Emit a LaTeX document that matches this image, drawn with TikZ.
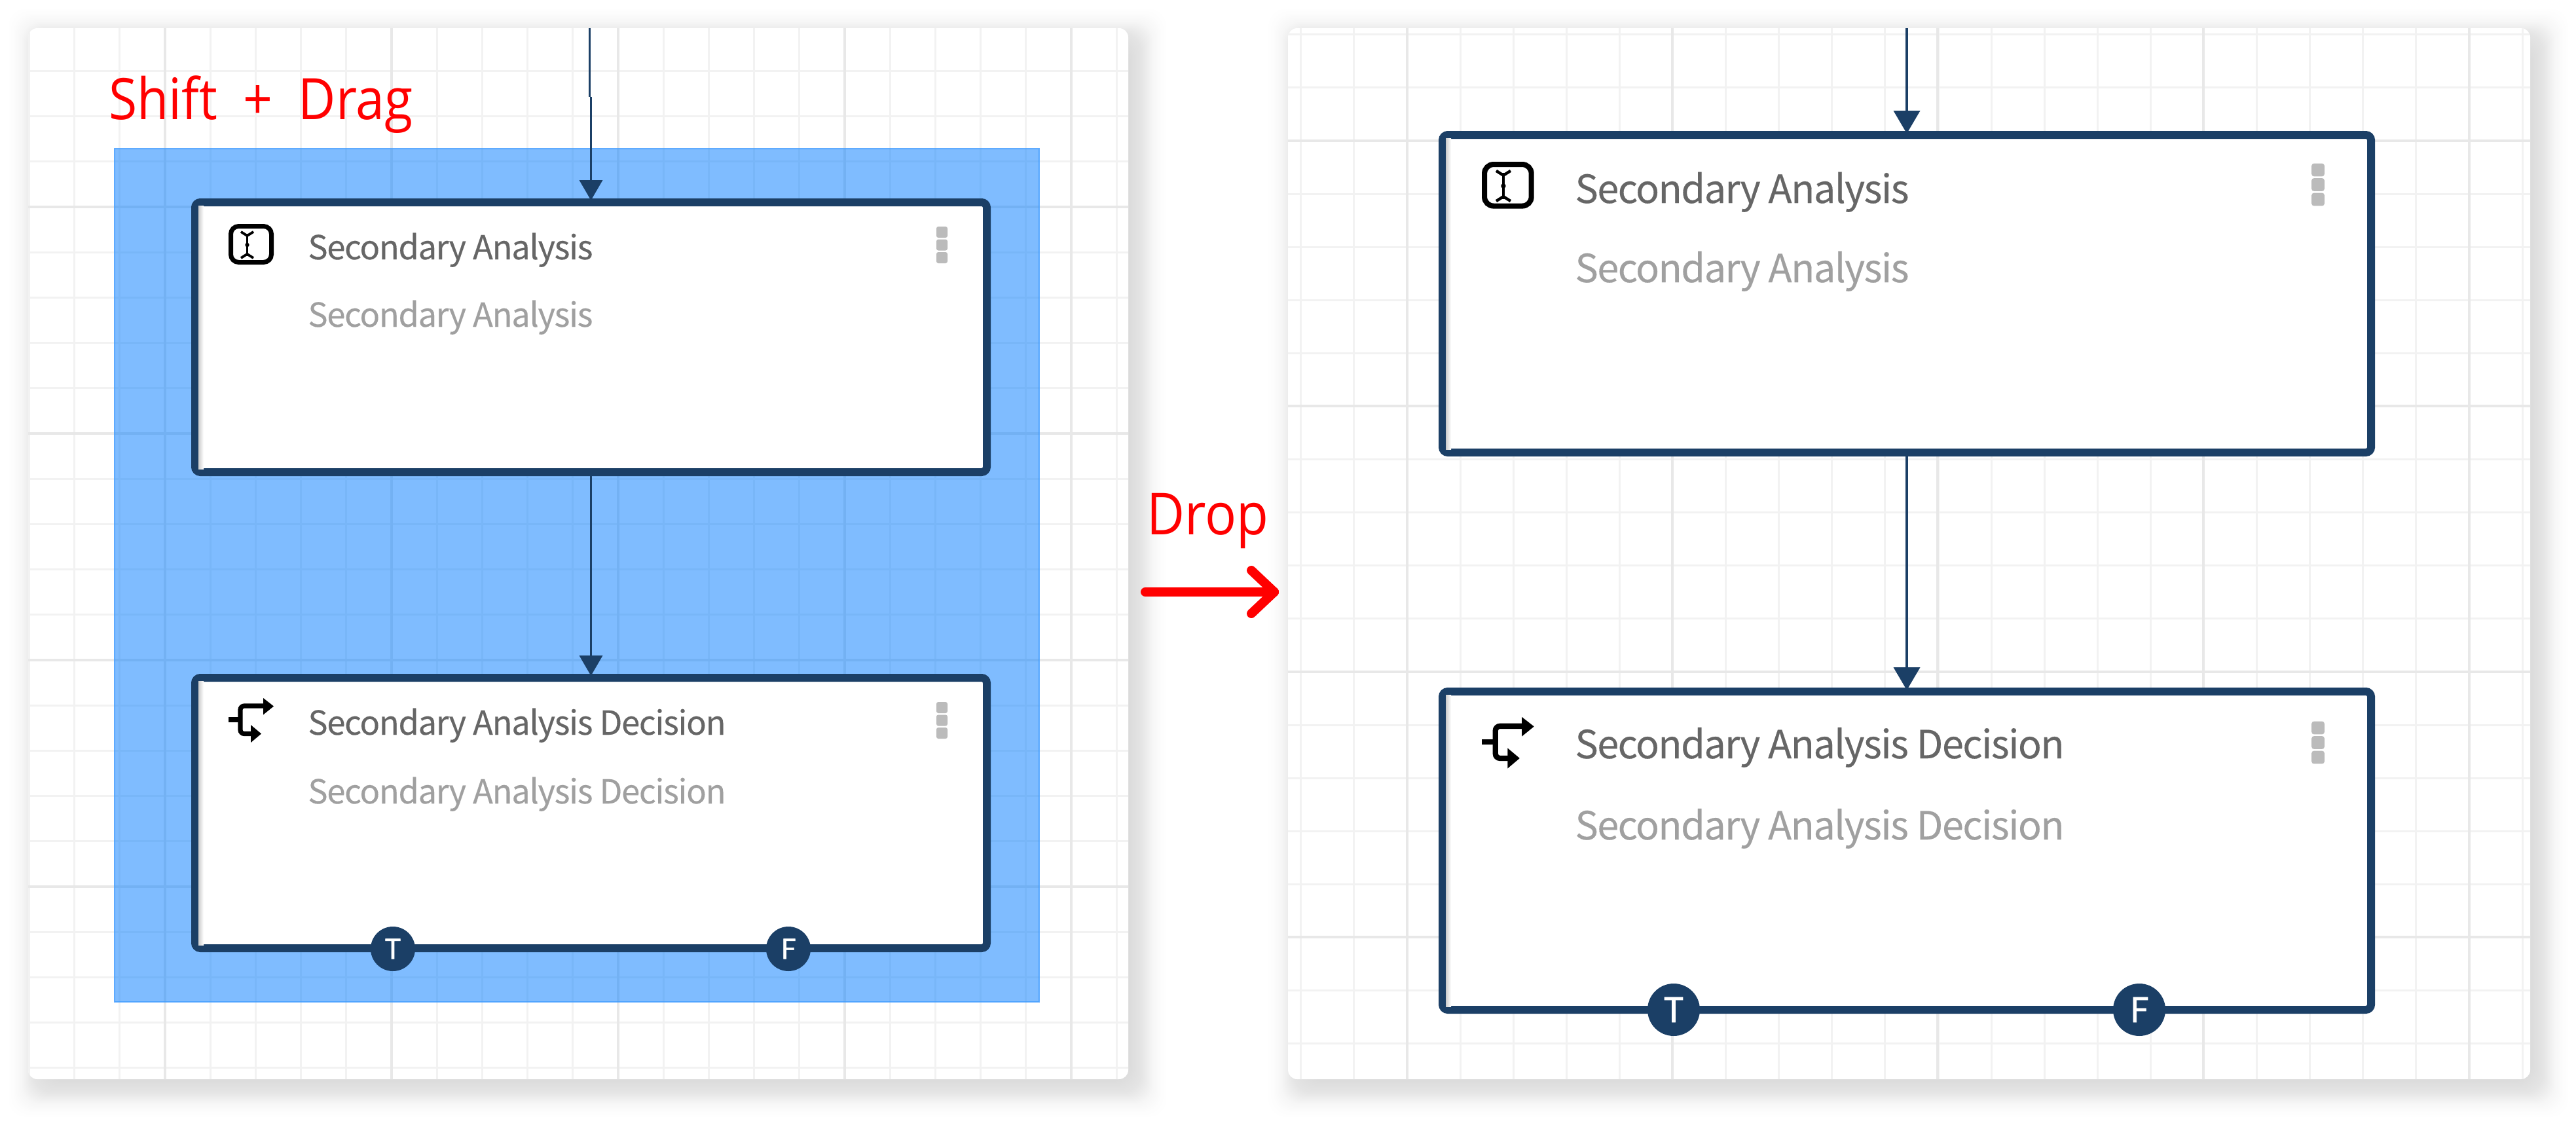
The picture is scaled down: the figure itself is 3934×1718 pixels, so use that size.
\documentclass[tikz,border=0pt]{standalone}
\usepackage{graphicx}
\usepackage{fontspec}
\usetikzlibrary{arrows.meta,shapes.geometric}
\newfontfamily\nodefont[LetterSpace=-2.5,FakeBold=0.25]{Noto Sans CJK KR}
\newfontfamily\portfont[FakeBold=1.5]{Noto Sans CJK KR}
\newfontfamily\redfont[FakeStretch=0.9]{Open Sans}
\definecolor{navy}{HTML}{1B3F66}
\definecolor{titlegray}{HTML}{666666}
\definecolor{subgray}{HTML}{A0A0A0}
\definecolor{gridminor}{HTML}{F2F2F2}
\definecolor{gridmajor}{HTML}{E8E8E8}
\definecolor{selblue}{HTML}{007BFF}
\definecolor{dotgray}{HTML}{BBBBBB}
\newcommand{\fitw}[2]{\resizebox{#1pt}{!}{#2}}
\newcommand{\panelshadow}[4]{%
  \foreach \d in {-14,-12,...,6,7,8,...,24,26,28,...,36,40,44}
    \fill[black,opacity=.0055,rounded corners=14pt]
      ({#1+14-\d},{#2+14-\d}) rectangle ({#3+14+\d},{#4+14+\d});}
% I-beam icon: origin top-left, scale relative to left-hand size
\newcommand{\iconbeam}[3]{%
  \begin{scope}[shift={(#1,#2)},x=#3*0.5pt,y=-#3*0.5pt]
    \draw[black,line width=#3*3.5pt,rounded corners=#3*6pt] (3.5,3.5) rectangle (65.5,58.5);
    \draw[black,line width=#3*1.9pt] (28.5,15) -- (28.5,49);
    \draw[black,line width=#3*1.9pt] (19,12) -- (28.5,18) -- (38,12);
    \draw[black,line width=#3*1.9pt] (19,52) -- (28.5,46) -- (38,52);
    \fill[black] (28.5,32) circle[radius=3.2];
  \end{scope}}
% decision icon
\newcommand{\icondec}[3]{%
  \begin{scope}[shift={(#1,#2)},x=#3*0.5pt,y=-#3*0.5pt]
    \draw[black,line width=#3*3.6pt,rounded corners=#3*3pt] (60,12) -- (18,12) -- (18,54.5) -- (38,54.5);
    \draw[black,line width=#3*3.6pt] (0,33) -- (18,33);
    \fill[black] (69,12.5) -- (53,0) -- (53,25.5) -- cycle;
    \fill[black] (50,54.5) -- (34,41) -- (34,68) -- cycle;
  \end{scope}}
\newcommand{\threedots}[3]{%
  \foreach \k in {-1,0,1}
    \fill[dotgray,rounded corners=#3*1.5pt]
      ({#1-8.5*#3},{#2+\k*19.5*#3-8.5*#3}) rectangle ({#1+8.5*#3},{#2+\k*19.5*#3+8.5*#3});}
\tikzset{
  flownode/.style={draw=navy,fill=white,rectangle,rounded corners=4pt,line width=6pt,inner sep=0pt},
  titletext/.style={anchor=base west,inner sep=0pt,text=titlegray,font=\nodefont\fontsize{24}{28}\selectfont},
  subtext/.style={anchor=base west,inner sep=0pt,text=subgray,font=\nodefont\fontsize{24}{28}\selectfont},
  redtext/.style={anchor=base west,inner sep=0pt,text=red,font=\redfont\fontsize{36}{42}\selectfont},
  portsmall/.style={circle,fill=navy,minimum size=34pt,inner sep=0pt,text=white,font=\portfont\fontsize{21}{24}\selectfont},
  portlarge/.style={circle,fill=navy,minimum size=40pt,inner sep=0pt,text=white,font=\portfont\fontsize{26}{28}\selectfont},
  edgesmall/.style={draw=navy,line width=1.9pt,shorten >=-1.5pt,-{Triangle[width=17.5pt,length=15.5pt]}},
  edgelarge/.style={draw=navy,line width=2pt,shorten >=-2pt,-{Triangle[width=20pt,length=17.5pt]}},
  gmin/.style={gridminor,line width=1.5pt},
  gmaj/.style={gridmajor,line width=1.8pt},
  redarrow/.style={draw=red,line width=7pt,line cap=round,line join=round},
}
\begin{document}
\begin{tikzpicture}[x=0.5pt,y=-0.5pt]
\useasboundingbox (0,0) rectangle (3934,1718);
\fill[white] (0,0) rectangle (3934,1718);
\panelshadow{43}{43}{1723}{1648}
\panelshadow{1967}{43}{3864}{1648}
% left panel
\fill[white,rounded corners=7pt] (43,43) rectangle (1723,1648);
\begin{scope}
  \clip[rounded corners=7pt] (43,43) rectangle (1723,1648);
  \foreach \i in {0,...,24} \draw[gmin] ({44.4+69.2*\i},43) -- ({44.4+69.2*\i},1648);
  \foreach \i in {0,...,22} \draw[gmin] (43,{108.4+69.2*\i}) -- (1723,{108.4+69.2*\i});
  \foreach \v in {252,598,944,1290,1636} \draw[gmaj] (\v,43) -- (\v,1648);
  \foreach \v in {316,662,1008,1354} \draw[gmaj] (43,\v) -- (1723,\v);
\end{scope}
% right panel
\fill[white,rounded corners=7pt] (1967,43) rectangle (3864,1648);
\begin{scope}
  \clip[rounded corners=7pt] (1967,43) rectangle (3864,1648);
  \foreach \i in {0,...,23} \draw[gmin] ({1986.8+81.1*\i},43) -- ({1986.8+81.1*\i},1648);
  \foreach \i in {0,...,20} \draw[gmin] (1967,{52.8+81.1*\i}) -- (3864,{52.8+81.1*\i});
  \foreach \v in {2149,2554,2959,3365,3771} \draw[gmaj] (\v,43) -- (\v,1648);
  \foreach \v in {215,620,1026,1431} \draw[gmaj] (1967,\v) -- (3864,\v);
\end{scope}
% selection
\fill[selblue,opacity=.5] (175,227) rectangle (1587,1530);
\draw[selblue!75,line width=1pt,opacity=.8] (175,227) rectangle (1587,1530);
% nodes
\node[flownode,minimum width=604.5pt,minimum height=206pt] (n1) at (902.5,515) {};
\node[flownode,minimum width=604.5pt,minimum height=206.5pt] (n2) at (902.5,1241.5) {};
\node[flownode,minimum width=709pt,minimum height=242.5pt] (n3) at (2912,448.5) {};
\node[flownode,minimum width=709pt,minimum height=243pt] (n4) at (2912,1299) {};
% inner left shade
\shade[left color=black!20,right color=white] (303,314) rectangle (311,716);
\shade[left color=black!20,right color=white] (303,1040) rectangle (311,1443);
\shade[left color=black!20,right color=white] (2208,211) rectangle (2216,686);
\shade[left color=black!20,right color=white] (2208,1061) rectangle (2216,1537);
% connectors
\coordinate (c1) at (900.5,43);
\coordinate (j1) at (900.5,148);
\coordinate (j2) at (902.5,148);
\coordinate (c3) at (2912,43);
\draw[navy,line width=1.9pt] (c1) -- (j1);
\draw[edgesmall] (j2) -- (n1.north);
\draw[edgesmall] (n1.south) -- (n2.north);
\draw[edgelarge] (c3) -- (n3.north);
\draw[edgelarge] (n3.south) -- (n4.north);
% icons
\iconbeam{349}{342}{1}
\icondec{349}{1066}{1}
\iconbeam{2263}{247}{1.155}
\icondec{2263}{1095}{1.155}
% dots
\threedots{1438.5}{374}{1}
\threedots{1438.5}{1100}{1}
\threedots{3540}{282}{1.155}
\threedots{3540}{1134}{1.155}
% texts
\node[titletext] (t1) at (470,396) {\fitw{217.5}{Secondary Analysis}};
\node[subtext] (s1) at (470,499) {\fitw{217.5}{Secondary Analysis}};
\node[titletext] (t2) at (470,1122) {\fitw{319}{Secondary Analysis Decision}};
\node[subtext] (s2) at (470,1227) {\fitw{319}{Secondary Analysis Decision}};
\node[titletext] (t3) at (2405,310) {\fitw{255}{Secondary Analysis}};
\node[subtext] (s3) at (2405,431) {\fitw{255}{Secondary Analysis}};
\node[titletext] (t4) at (2405,1158) {\fitw{373.5}{Secondary Analysis Decision}};
\node[subtext] (s4) at (2405,1282) {\fitw{373.5}{Secondary Analysis Decision}};
% ports
\node[portsmall] (pt1) at (600,1449) {T};
\node[portsmall] (pf1) at (1204,1449) {F};
\node[portlarge] (pt2) at (2556,1542) {T};
\node[portlarge] (pf2) at (3267,1542) {F};
% red labels
\node[redtext] (shift) at (166,183) {\fitw{232}{Shift\hspace{.45em}+\hspace{.45em}Drag}};
\node[redtext] (drop) at (1751,816) {\fitw{93}{Drop}};
\coordinate (ra) at (1749,904);
\coordinate (rb) at (1946,904);
\coordinate (rc) at (1911,871);
\coordinate (rd) at (1911,937);
\draw[redarrow] (ra) -- (rb);
\draw[redarrow] (rc) -- (rb) -- (rd);
\end{tikzpicture}
\end{document}
